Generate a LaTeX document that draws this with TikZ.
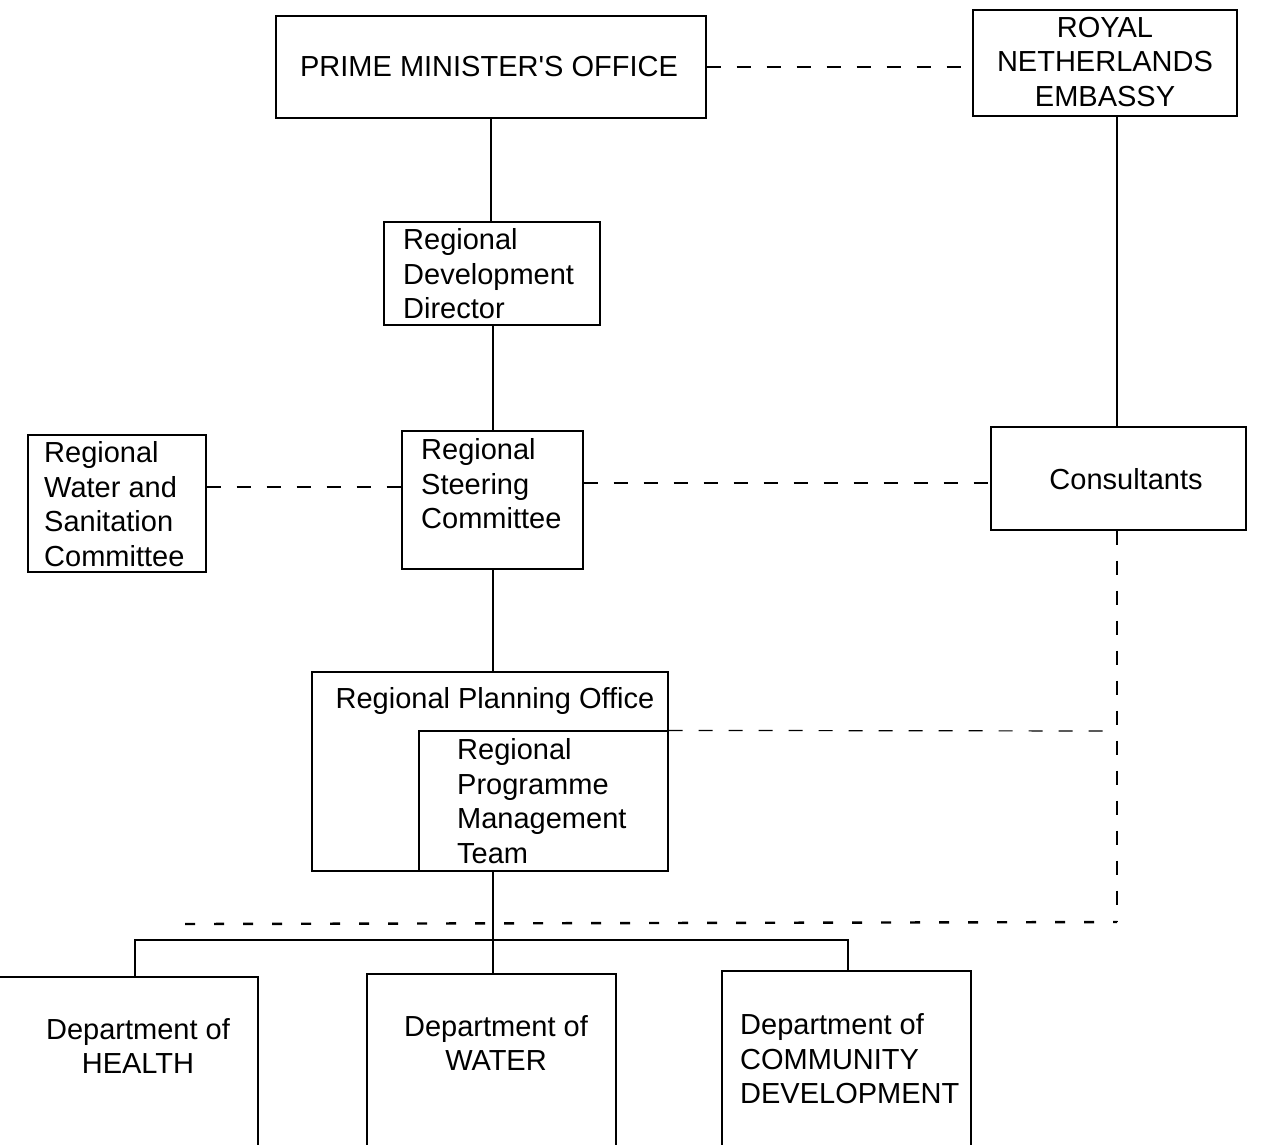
\documentclass[tikz,border=0pt]{standalone}
\usepackage{fontspec}
\setmainfont{Liberation Sans}
\begin{document}
\begin{tikzpicture}[x=1pt,y=-1pt,
  box/.style={draw, line width=1.2pt, inner sep=0pt},
  lbl/.style={font=\fontsize{29}{34.5}\selectfont, inner sep=0pt, align=left},
  lblc/.style={font=\fontsize{29}{34.5}\selectfont, inner sep=0pt, align=center},
  conn/.style={line width=1.2pt},
  dashconn/.style={line width=1.2pt, dash pattern=on 14pt off 16pt},
  dashbold/.style={line width=2.4pt, dash pattern=on 10pt off 19pt}]
\useasboundingbox (0,0) rectangle (1271,1144);
\clip (0,0) rectangle (1271,1144);
% boxes
\node[box, minimum width=430pt, minimum height=102pt] (pmo) at (491,67) {};
\node[box, minimum width=264pt, minimum height=106pt] (rne) at (1105,63) {};
\node[box, minimum width=216pt, minimum height=103pt] (rdd) at (492,273.5) {};
\node[box, minimum width=181pt, minimum height=138pt] (rsc) at (492.5,500) {};
\node[box, minimum width=178pt, minimum height=137pt] (rwsc) at (117,503.5) {};
\node[box, minimum width=255pt, minimum height=103pt] (cons) at (1118.5,478.5) {};
\node[box, minimum width=356pt, minimum height=199pt] (rpo) at (490,771.5) {};
\node[box, minimum width=249pt, minimum height=140pt] (rpmt) at (543.5,801) {};
\node[box, minimum width=288pt, minimum height=180pt] (health) at (114,1067) {};
\node[box, minimum width=249pt, minimum height=180pt] (water) at (491.5,1064) {};
\node[box, minimum width=249pt, minimum height=183pt] (comm) at (846.5,1062.5) {};
% texts
\node[lblc] (pmo-t) at (489,67) {PRIME MINISTER\textquotesingle S OFFICE};
\node[lblc] (rne-t) at (1105,62) {ROYAL\\NETHERLANDS\\EMBASSY};
\node[lbl, anchor=west] (rdd-t) at (403,274) {Regional\\Development\\Director};
\node[lbl, anchor=west] (rwsc-t) at (44,504) {Regional\\Water and\\Sanitation\\Committee};
\node[lbl, anchor=west] (rsc-t) at (421,484) {Regional\\Steering\\Committee};
\node[lblc] (cons-t) at (1126,479) {Consultants};
\node[lblc] (rpo-t) at (495,701) {Regional Planning Office};
\node[lbl, anchor=west] (rpmt-t) at (457,801) {Regional\\Programme\\Management\\Team};
\node[lblc] (health-t) at (138,1046) {Department of\\HEALTH};
\node[lblc] (water-t) at (496,1043) {Department of\\WATER};
\node[lbl, anchor=west] (comm-t) at (740,1059) {Department of\\COMMUNITY\\DEVELOPMENT};
% helper coordinates
\coordinate (vx) at (1117,0);
\coordinate (sx) at (493,0);
\coordinate (hb) at (135,940);
\coordinate (cb) at (848,940);
\coordinate (y487) at (0,487);
\coordinate (y483) at (0,483);
\coordinate (y731) at (0,731);
\coordinate (cdn) at (1117,922);
\coordinate (cleft) at (185,924);
% solid connectors
\draw[conn] (pmo.south) -- (pmo.south |- rdd.north);
\draw[conn] (sx |- rdd.south) -- (sx |- rsc.north);
\draw[conn] (sx |- rsc.south) -- (sx |- rpo.north);
\draw[conn] (sx |- rpmt.south) -- (sx |- water.north);
\draw[conn] (hb |- health.north) -- (hb) -- (cb) -- (cb |- comm.north);
\draw[conn] (vx |- rne.south) -- (vx |- cons.north);
% dashed connectors
\draw[dashconn] (pmo.east) -- (pmo.east -| rne.west);
\draw[dashconn] (rwsc.east |- y487) -- (rsc.west |- y487);
\draw[dashconn] (rsc.east |- y483) -- (cons.west |- y483);
\draw[dashconn] (vx |- cons.south) -- (cdn);
\draw[dashconn] (rpmt.north east) -- (vx |- y731);
\draw[dashbold] (cleft) -- (cdn);
\end{tikzpicture}
\end{document}
